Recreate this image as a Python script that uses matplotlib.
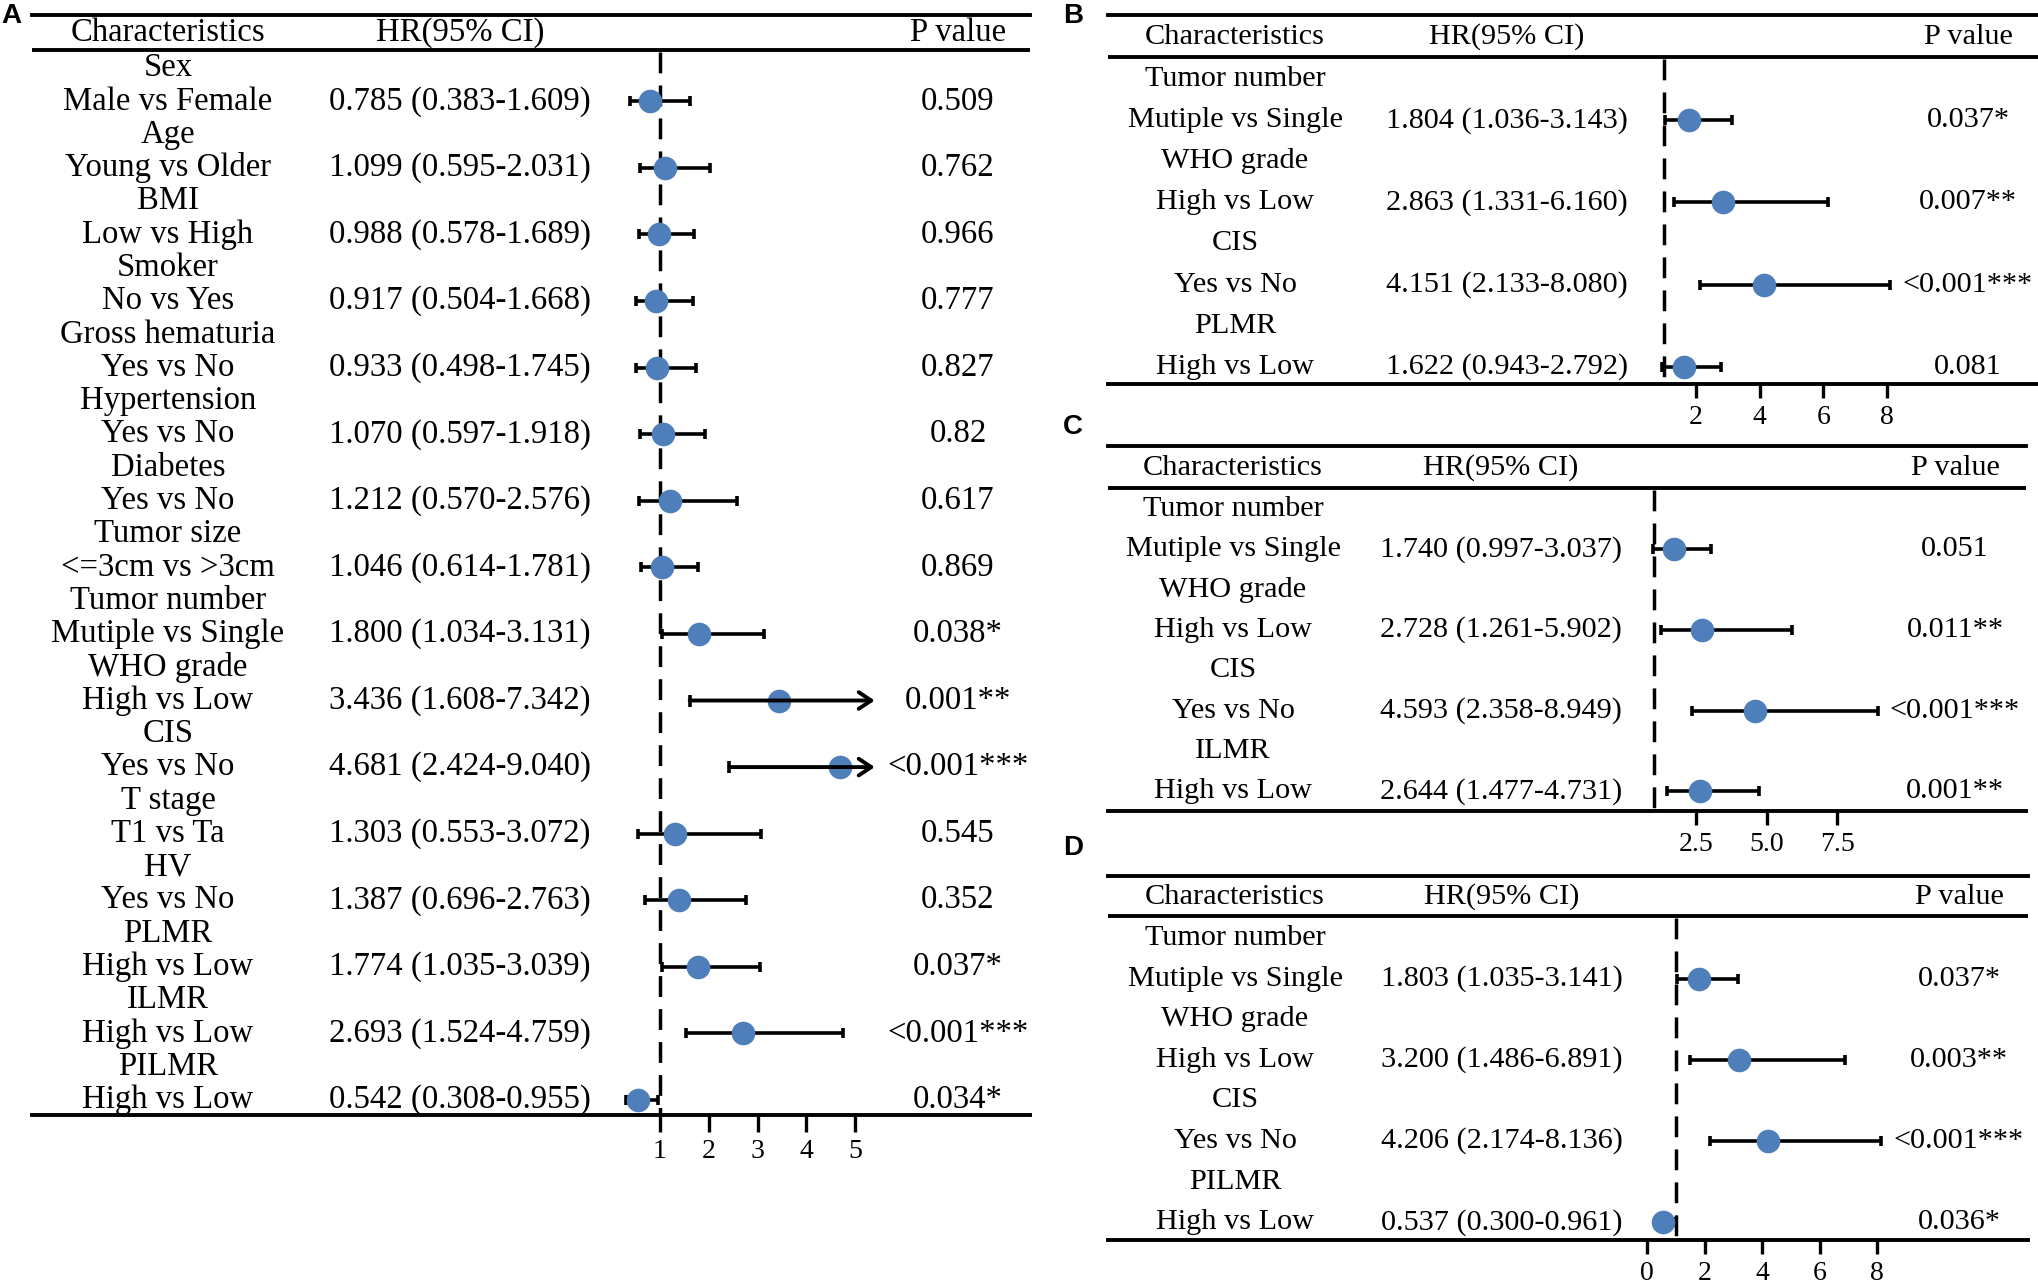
import matplotlib
matplotlib.use("Agg")
import matplotlib.pyplot as plt
import matplotlib.transforms as mtransforms

plt.rcParams['font.family'] = ['Liberation Serif', 'DejaVu Serif']

W, H = 2038, 1283

# ---- panel A: univariate ----
a_groups = ["Sex", "Age", "BMI", "Smoker", "Gross hematuria", "Hypertension", "Diabetes",
            "Tumor size", "Tumor number", "WHO grade", "CIS", "T stage", "HV", "PLMR",
            "ILMR", "PILMR"]
a_comps = ["Male vs Female", "Young vs Older", "Low vs High", "No vs Yes", "Yes vs No",
           "Yes vs No", "Yes vs No", "<=3cm vs >3cm", "Mutiple vs Single", "High vs Low",
           "Yes vs No", "T1 vs Ta", "Yes vs No", "High vs Low", "High vs Low", "High vs Low"]
a_hr = [0.785, 1.099, 0.988, 0.917, 0.933, 1.070, 1.212, 1.046, 1.800, 3.436, 4.681,
        1.303, 1.387, 1.774, 2.693, 0.542]
a_lo = [0.383, 0.595, 0.578, 0.504, 0.498, 0.597, 0.570, 0.614, 1.034, 1.608, 2.424,
        0.553, 0.696, 1.035, 1.524, 0.308]
a_hi = [1.609, 2.031, 1.689, 1.668, 1.745, 1.918, 2.576, 1.781, 3.131, 7.342, 9.040,
        3.072, 2.763, 3.039, 4.759, 0.955]
a_p = ["0.509", "0.762", "0.966", "0.777", "0.827", "0.82", "0.617", "0.869", "0.038*",
       "0.001**", "<0.001***", "0.545", "0.352", "0.037*", "<0.001***", "0.034*"]
a_ticks = [1, 2, 3, 4, 5]
a_ticklabels = ["1", "2", "3", "4", "5"]

# ---- panel B ----
b_groups = ["Tumor number", "WHO grade", "CIS", "PLMR"]
b_comps = ["Mutiple vs Single", "High vs Low", "Yes vs No", "High vs Low"]
b_hr = [1.804, 2.863, 4.151, 1.622]
b_lo = [1.036, 1.331, 2.133, 0.943]
b_hi = [3.143, 6.160, 8.080, 2.792]
b_p = ["0.037*", "0.007**", "<0.001***", "0.081"]
b_ticks = [2, 4, 6, 8]
b_ticklabels = ["2", "4", "6", "8"]

# ---- panel C ----
c_groups = ["Tumor number", "WHO grade", "CIS", "ILMR"]
c_comps = ["Mutiple vs Single", "High vs Low", "Yes vs No", "High vs Low"]
c_hr = [1.740, 2.728, 4.593, 2.644]
c_lo = [0.997, 1.261, 2.358, 1.477]
c_hi = [3.037, 5.902, 8.949, 4.731]
c_p = ["0.051", "0.011**", "<0.001***", "0.001**"]
c_ticks = [2.5, 5.0, 7.5]
c_ticklabels = ["2.5", "5.0", "7.5"]

# ---- panel D ----
d_groups = ["Tumor number", "WHO grade", "CIS", "PILMR"]
d_comps = ["Mutiple vs Single", "High vs Low", "Yes vs No", "High vs Low"]
d_hr = [1.803, 3.200, 4.206, 0.537]
d_lo = [1.035, 1.486, 2.174, 0.300]
d_hi = [3.141, 6.891, 8.136, 0.961]
d_p = ["0.037*", "0.003**", "<0.001***", "0.036*"]
d_ticks = [0, 2, 4, 6, 8]
d_ticklabels = ["0", "2", "4", "6", "8"]

DOT = '#4f7fba'


def draw_panel(fig, box, groups, comps, hr, lo, hi, pvals, ticks, ticklabels,
               fontsize, clip=None, ticklen=10):
    left, right, top, bottom, x1, ppu, row0, step, head_y, hline_y, cols = box
    ax = fig.add_axes([left / W, 1 - bottom / H, (right - left) / W, (bottom - top) / H])
    ax.set_xlim(1 + (left - x1) / ppu, 1 + (right - x1) / ppu)
    to_row = lambda py: (py - row0) / step
    ax.set_ylim(to_row(bottom), to_row(top))
    for s in ['left', 'right']:
        ax.spines[s].set_visible(False)
    for s in ['top', 'bottom']:
        ax.spines[s].set_linewidth(2.8)
    ax.axhline(to_row(hline_y), color='black', lw=2.8)
    ax.set_yticks([])
    ax.set_xticks(ticks)
    ax.set_xticklabels(ticklabels, family=['Liberation Serif', 'DejaVu Serif'])
    ax.tick_params(axis='x', direction='out', length=ticklen, width=2.4,
                   labelsize=20, pad=5)

    ax.vlines(1, to_row(hline_y) + 0.05, to_row(bottom), colors='black', lw=2.5,
              linestyles=(0, (6, 3.5)), zorder=2)

    tr = mtransforms.blended_transform_factory(fig.transFigure, ax.transData)
    cx, hx, px = cols[0] / W, cols[1] / W, cols[2] / W
    hrow = to_row(head_y)
    ax.text(cx, hrow, "Characteristics", transform=tr, ha='center', va='center', fontsize=fontsize)
    ax.text(hx, hrow, "HR(95% CI)", transform=tr, ha='center', va='center', fontsize=fontsize)
    ax.text(px, hrow, "P value", transform=tr, ha='center', va='center', fontsize=fontsize)

    for i, g in enumerate(groups):
        y0, y1 = 2 * i, 2 * i + 1
        ax.text(cx, y0, g, transform=tr, ha='center', va='center', fontsize=fontsize)
        ax.text(cx, y1, comps[i], transform=tr, ha='center', va='center', fontsize=fontsize)
        ax.text(hx, y1, f"{hr[i]:.3f} ({lo[i]:.3f}-{hi[i]:.3f})", transform=tr,
                ha='center', va='center', fontsize=fontsize)
        ax.text(px, y1, pvals[i], transform=tr, ha='center', va='center', fontsize=fontsize)

        if clip is not None and hi[i] > clip:
            ax.plot(hr[i], y1, 'o', ms=16, color=DOT, zorder=3)
            ax.plot(lo[i], y1, '|', ms=8, mew=2.6, color='black', zorder=4)
            ax.annotate('', xy=(clip, y1), xytext=(lo[i], y1),
                        arrowprops=dict(arrowstyle='->,head_length=0.45,head_width=0.3',
                                        lw=2.8, color='black', shrinkA=0, shrinkB=0,
                                        mutation_scale=20), zorder=4)
        else:
            ax.errorbar(hr[i], y1, xerr=[[hr[i] - lo[i]], [hi[i] - hr[i]]], fmt='none',
                        ecolor='black', elinewidth=2.6, capsize=3.5, capthick=2.6, zorder=2)
            ax.plot(hr[i], y1, 'o', ms=16, color=DOT, zorder=3)
    return ax


fig = plt.figure(figsize=(W / 100, H / 100), dpi=100)

# left, right, top, bottom, x(HR=1), px per unit, first row y, row step, header y, header line y, text columns
box_a = (32, 1030, 15, 1115, 660, 48.8, 68, 33.29, 33, 50, (168, 460, 958))
box_b = (1108, 2038, 15, 384, 1663.8, 31.9, 79, 41.1, 37, 57, (1235, 1507, 1968))
box_c = (1108, 2026, 446, 811, 1653.5, 28.3, 509, 40.3, 468, 488, (1233, 1501, 1955))
box_d = (1108, 2028, 876, 1240, 1676, 28.75, 938, 40.6, 897, 916, (1235, 1502, 1959))

draw_panel(fig, box_a, a_groups, a_comps, a_hr, a_lo, a_hi, a_p, a_ticks, a_ticklabels,
           23.6, clip=5.4, ticklen=12)
draw_panel(fig, box_b, b_groups, b_comps, b_hr, b_lo, b_hi, b_p, b_ticks, b_ticklabels, 21.8)
draw_panel(fig, box_c, c_groups, c_comps, c_hr, c_lo, c_hi, c_p, c_ticks, c_ticklabels, 21.8)
draw_panel(fig, box_d, d_groups, d_comps, d_hr, d_lo, d_hi, d_p, d_ticks, d_ticklabels, 21.8)

for lab, x, y in [("A", 1, 16), ("B", 1063, 16), ("C", 1063, 427), ("D", 1063, 848)]:
    fig.text(x / W, 1 - y / H, lab, fontsize=20, fontweight='bold',
             family=['Liberation Sans', 'DejaVu Sans'], ha='left', va='center')

fig.savefig("out.png", dpi=100)
